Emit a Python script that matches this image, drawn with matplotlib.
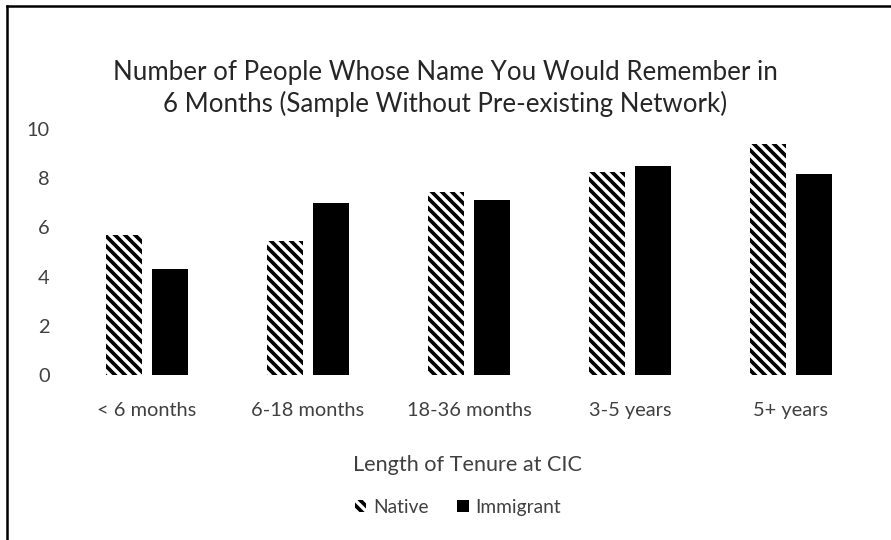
import numpy as np
import matplotlib
matplotlib.use('Agg')
import matplotlib.pyplot as plt
from matplotlib.lines import Line2D

plt.rcParams['font.family'] = ['Lato', 'DejaVu Sans']
plt.rcParams['hatch.linewidth'] = 2.2

categories = ['< 6 months', '6-18 months', '18-36 months', '3-5 years', '5+ years']
native = [5.7, 5.45, 7.45, 8.27, 9.38]
immigrant = [4.3, 7.0, 7.1, 8.5, 8.17]

DPI = 120
fig = plt.figure(figsize=(891 / DPI, 540 / DPI), dpi=DPI)
ax = fig.add_axes([0.0746, 0.3056, 0.9034, 0.4555])

x = np.arange(len(categories))
w = 0.224
off = 0.143
ax.bar(x - off, native, w, color='white', edgecolor='black', hatch='\\\\\\\\', linewidth=0, label='Native')
ax.bar(x + off, immigrant, w, color='black', linewidth=0, label='Immigrant')

ax.set_xlim(-0.5, len(categories) - 0.5)
ax.set_ylim(0, 10)
ax.set_yticks(range(0, 11, 2))
ax.set_xticks(x)
ax.set_xticklabels(categories)
for s in ax.spines.values():
    s.set_visible(False)
ax.tick_params(length=0, labelsize=12, colors='#404040')
ax.tick_params(axis='x', pad=16)
ax.tick_params(axis='y', pad=10)

txt = '#262626'
fig.text(0.5, 0.866, 'Number of People Whose Name You Would Remember in', ha='center', va='center', fontsize=15.5, color=txt)
fig.text(0.5, 0.807, '6 Months (Sample Without Pre-existing Network)', ha='center', va='center', fontsize=15.5, color=txt)
fig.text(0.525, 0.139, 'Length of Tenure at CIC', ha='center', va='center', fontsize=13, color='#404040')

leg = fig.legend(loc='center', bbox_to_anchor=(0.514, 0.061), ncol=2, frameon=False,
                 handlelength=0.6, handleheight=0.6, handletextpad=0.35, columnspacing=1.5,
                 fontsize=11.5, labelcolor='#404040')

# outer frame (left and top only are visible)
fig.add_artist(Line2D([0.0078, 0.0078], [0, 0.9889], transform=fig.transFigure, color='black', lw=1.5))
fig.add_artist(Line2D([0.0078, 1], [0.9889, 0.9889], transform=fig.transFigure, color='black', lw=1.5))

fig.savefig('out.png', dpi=DPI)
